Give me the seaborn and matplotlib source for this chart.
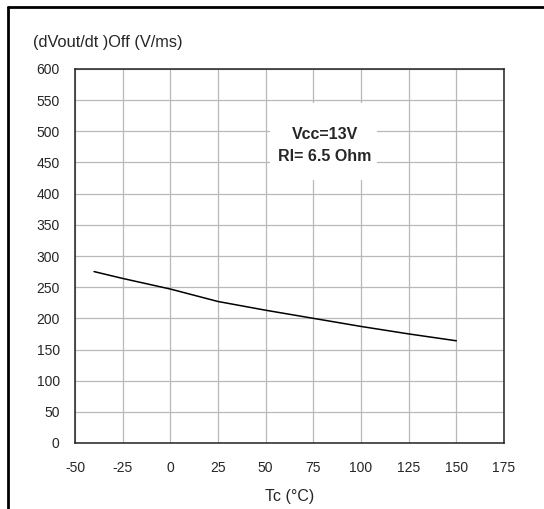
import numpy as np
import pandas as pd
import matplotlib
matplotlib.use("Agg")
import matplotlib.pyplot as plt
from matplotlib.lines import Line2D
from matplotlib.patches import Rectangle
import seaborn as sns

## Data
tc = [-40, -25, 0, 25, 50, 75, 100, 125, 150]
dvdt_off = [275, 264, 247, 227, 213, 200, 187, 175, 164]
x_ticks = [-50, -25, 0, 25, 50, 75, 100, 125, 150, 175]
y_ticks = [0, 50, 100, 150, 200, 250, 300, 350, 400, 450, 500, 550, 600]

df = pd.DataFrame({"Tc": tc, "dvdt": dvdt_off})

sns.set_style("white")
plt.rcParams['font.family'] = ['Liberation Sans', 'DejaVu Sans']
plt.rcParams['axes.unicode_minus'] = False

fig = plt.figure(figsize=(5.44, 5.09), dpi=100)
ax = fig.add_axes([75/544, 1 - 443/509, 429/544, 374/509])

sns.lineplot(data=df, x="Tc", y="dvdt", color="black", linewidth=1.1, ax=ax, zorder=4)

ax.set_xlim(-50, 175)
ax.set_ylim(0, 600)
ax.set_xticks(x_ticks)
ax.set_yticks(y_ticks)
ax.grid(True, color="#b8b8b8", linewidth=0.9)
ax.set_axisbelow(True)
for sp in ax.spines.values():
    sp.set_color("#222222")
    sp.set_linewidth(1.1)
ax.tick_params(axis="x", length=0, pad=13, labelsize=10)
ax.tick_params(axis="y", length=0, pad=11, labelsize=10)
ax.set_xlabel("Tc (°C)", fontsize=11.5, labelpad=10)
ax.set_ylabel("")

# annotation box covering the grid
ax.add_patch(Rectangle((52.3, 422), 56.1, 124, facecolor="white", edgecolor="none", zorder=3))
ax.text(81, 477, "Vcc=13V\nRl= 6.5 Ohm", ha="center", va="center", fontsize=11.5,
        fontweight="bold", linespacing=1.55, zorder=5)

fig.text(33/544, 1 - 43/509, "(dVout/dt )Off (V/ms)", ha="left", va="center", fontsize=11.8)

# frame lines of the page
fig.add_artist(Line2D([8/544, 1], [1 - 7/509, 1 - 7/509], color="black", linewidth=2, transform=fig.transFigure))
fig.add_artist(Line2D([8/544, 8/544], [0, 1 - 7/509], color="black", linewidth=2, transform=fig.transFigure))

plt.savefig("out.png", dpi=100)
